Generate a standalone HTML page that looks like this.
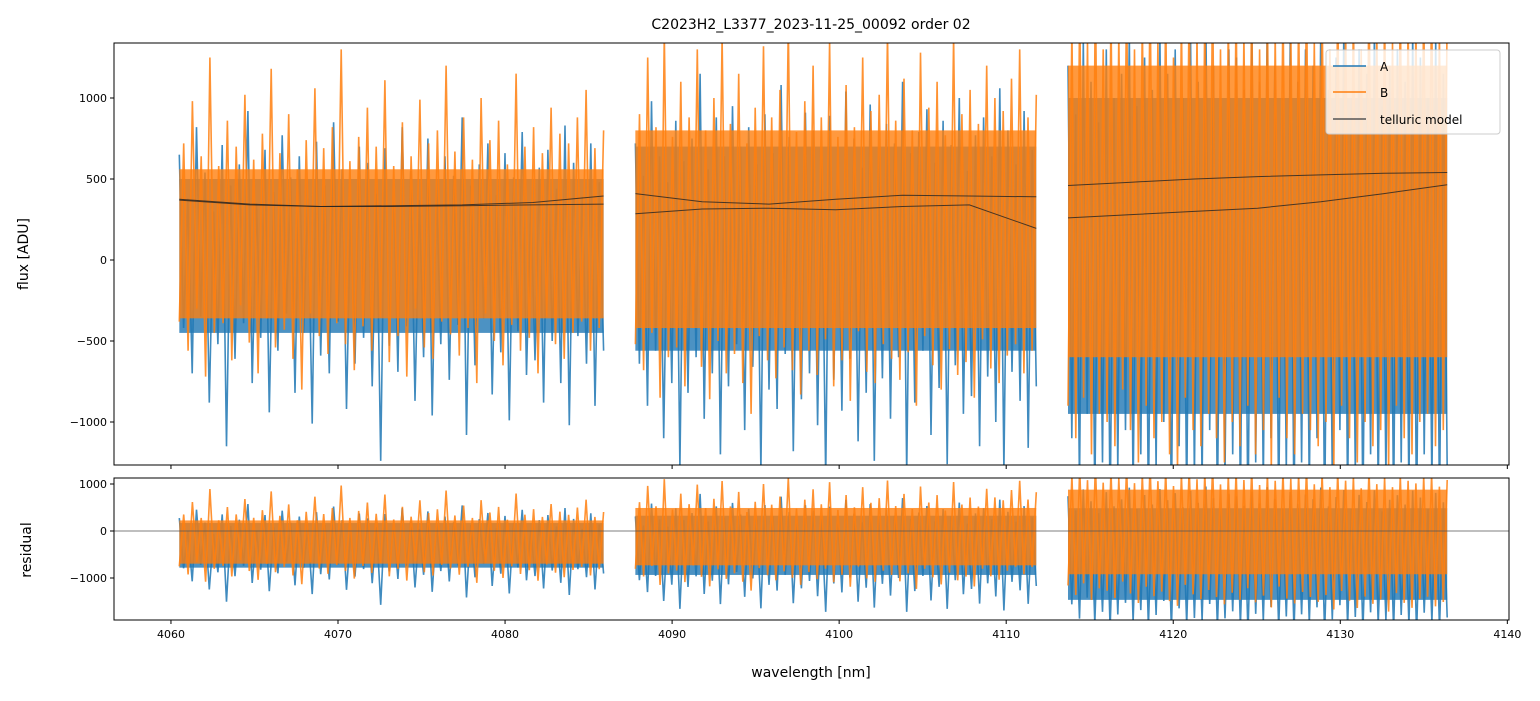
<!DOCTYPE html>
<html><head><meta charset="utf-8"><style>
body{margin:0;background:#fff;font-family:"Liberation Sans","DejaVu Sans",sans-serif}
svg text{font-family:"DejaVu Sans","Liberation Sans",sans-serif}
</style></head><body>
<svg id="c" width="1540" height="696" xmlns="http://www.w3.org/2000/svg">
<defs>
<clipPath id="ct"><rect x="114" y="43" width="1395" height="422"/></clipPath>
<clipPath id="cb"><rect x="114" y="478" width="1395" height="142"/></clipPath>
</defs>
<rect x="0" y="0" width="1540" height="696" fill="#fff"/>
<text x="811" y="29" font-size="14" text-anchor="middle">C2023H2_L3377_2023-11-25_00092  order 02</text>
<g id="gt" clip-path="url(#ct)"></g>
<g id="gb" clip-path="url(#cb)"></g>
<g id="axes"></g>
<text x="28" y="254" font-size="14" text-anchor="middle" transform="rotate(-90 28 254)">flux [ADU]</text>
<text x="31" y="550" font-size="14" text-anchor="middle" transform="rotate(-90 31 550)">residual</text>
<text x="811" y="677" font-size="14" text-anchor="middle">wavelength [nm]</text>
<g>
<rect x="1326" y="50" width="174" height="84" rx="3" fill="#fff" fill-opacity="0.8" stroke="#ccc"/>
<line x1="1333" y1="66" x2="1366" y2="66" stroke="#1f77b4" stroke-width="1.5"/>
<text x="1380" y="71" font-size="12">A</text>
<line x1="1333" y1="92" x2="1366" y2="92" stroke="#ff7f0e" stroke-width="1.5"/>
<text x="1380" y="97" font-size="12">B</text>
<line x1="1333" y1="119" x2="1366" y2="119" stroke="#555" stroke-width="1.5"/>
<text x="1380" y="124" font-size="12">telluric model</text>
</g>
</svg>
<script>
const segRanges=[[4060.5,4085.9],[4087.8,4111.8],[4113.7,4136.4]];
const xTicks=[4060,4070,4080,4090,4100,4110,4120,4130,4140];
const yTicksTop=[-1000,-500,0,500,1000];
const yTicksBot=[-1000,0,1000];
const modelA=[[375,345,330,330,335,340,345],[410,360,345,375,400,395,390],[460,480,500,515,525,535,540]];
const modelB=[[370,340,330,335,340,355,395],[285,315,320,310,330,340,195],[260,280,300,320,360,410,465]];
const coreLoA=[-450,-560,-950];
const coreHiA=[500,700,1000];
const coreLoB=[-360,-420,-600];
const coreHiB=[560,800,1200];
const fluxA=[
[650,-420,380,-700,820,-350,540,-880,300,-520,710,-1150,460,-610,590,-390,920,-760,350,-480,680,-940,420,-560,770,-330,510,-820,640,-450,380,-1010,730,-590,460,-700,850,-380,560,-920,330,-640,700,-480,600,-780,410,-1240,690,-530,480,-690,820,-410,550,-870,370,-600,750,-960,430,-520,640,-740,520,-400,880,-1080,460,-650,590,-360,720,-830,400,-570,660,-990,510,-440,790,-710,350,-620,570,-880,680,-500,440,-760,830,-1020,600,-470,390,-640,720,-900,480,-560],
[720,-640,520,-900,980,-560,640,-1100,480,-760,860,-1280,610,-820,750,-600,1150,-980,560,-700,880,-1200,640,-780,950,-520,700,-1050,820,-660,590,-1300,900,-800,660,-920,1080,-580,760,-1180,530,-860,910,-700,800,-1020,620,-1350,890,-740,680,-930,1040,-610,750,-1120,570,-820,960,-1240,640,-730,840,-980,720,-600,1100,-1320,660,-880,790,-560,930,-1080,600,-790,860,-1260,710,-650,1000,-950,550,-840,770,-1150,880,-720,640,-1000,1060,-1300,800,-690,590,-870,920,-1160,680,-780],
[1200,-1100,900,-1400,1350,-950,1100,-1500,850,-1250,1300,-1600,1000,-1300,1150,-1050,1400,-1450,950,-1200,1250,-1550,1050,-1300,1380,-1000,1150,-1600,1300,-1150,1000,-1500,1350,-1350,1100,-1400,1450,-1050,1200,-1550,950,-1350,1300,-1200,1250,-1500,1050,-1650,1350,-1250,1100,-1400,1450,-1100,1200,-1550,1000,-1300,1350,-1600,1100,-1250,1300,-1450,1200,-1100,1450,-1650,1050,-1350,1250,-1050,1400,-1500,1000,-1300,1300,-1600,1150,-1200,1400,-1450,950,-1350,1200,-1550,1300,-1250,1100,-1450,1400,-1650,1250,-1200,1000,-1400,1350,-1550,1150,-1300]];
const fluxB=[
[-380,720,-560,980,-300,640,-720,1250,-450,580,-390,860,-620,700,-280,1020,-510,620,-700,780,-360,1180,-540,660,-430,900,-610,560,-800,740,-330,1060,-470,690,-580,820,-390,1300,-520,610,-680,760,-410,940,-560,700,-350,1110,-630,580,-470,850,-720,640,-300,990,-540,720,-610,800,-380,1200,-460,670,-590,880,-420,620,-760,1000,-330,740,-500,860,-650,590,-400,1150,-560,700,-480,820,-700,660,-350,940,-520,780,-610,720,-450,880,-380,1050,-560,690,-420,800],
[-520,900,-680,1250,-450,820,-850,1400,-600,760,-540,1100,-780,880,-420,1300,-660,800,-860,1000,-500,1380,-700,840,-580,1150,-760,720,-950,940,-470,1320,-620,880,-730,1050,-540,1450,-680,790,-830,980,-560,1200,-710,880,-490,1350,-780,760,-620,1080,-870,820,-440,1250,-690,920,-760,1020,-520,1400,-610,860,-740,1120,-570,800,-900,1280,-470,940,-650,1100,-800,770,-550,1380,-710,900,-630,1050,-850,840,-490,1200,-670,1000,-760,920,-590,1120,-520,1300,-700,880,-560,1020],
[-900,1450,-1100,1600,-850,1350,-1200,1700,-950,1300,-1000,1550,-1150,1400,-800,1650,-1050,1300,-1250,1500,-900,1700,-1100,1350,-1000,1600,-1200,1250,-1300,1500,-850,1650,-1050,1400,-1150,1550,-950,1700,-1100,1300,-1250,1500,-1000,1600,-1150,1400,-900,1650,-1200,1300,-1050,1550,-1300,1400,-850,1600,-1100,1450,-1200,1550,-950,1700,-1050,1350,-1150,1600,-1000,1300,-1300,1650,-900,1450,-1100,1550,-1250,1300,-1000,1700,-1150,1400,-1050,1550,-1300,1350,-900,1600,-1100,1500,-1200,1450,-1000,1600,-950,1650,-1150,1400,-1050,1550]];
const X0=4056.59,X1=4140.1,PL=114,PR=1509;
const sx=w=>PL+(w-X0)/(X1-X0)*(PR-PL);
const syT=v=>260-v*0.162;
const syB=v=>531-v*0.047;
const ns='http://www.w3.org/2000/svg';
function mk(tag,attrs,parent){const e=document.createElementNS(ns,tag);for(const k in attrs)e.setAttribute(k,attrs[k]);parent.appendChild(e);return e;}
function modelAt(m,seg,w){const [a,b]=segRanges[seg];let t=(w-a)/(b-a)*(m.length-1);t=Math.max(0,Math.min(t,m.length-1));const i=Math.min(Math.floor(t),m.length-2);const f=t-i;return m[i]*(1-f)+m[i+1]*f;}
const gt=document.getElementById('gt'),gb=document.getElementById('gb'),ax=document.getElementById('axes');
[['A',fluxA,modelA,'#1f77b4',coreLoA,coreHiA],['B',fluxB,modelB,'#ff7f0e',coreLoB,coreHiB]].forEach(([nm,fl,md,col,lo,hi])=>{
 fl.forEach((arr,s)=>{
  const [a,b]=segRanges[s];
  const band=mk('rect',{x:sx(a),width:sx(b)-sx(a),y:syT(hi[s]),height:syT(lo[s])-syT(hi[s]),fill:col,'fill-opacity':0.8},gt);
  
  
  const mm=modelAt(md[s],s,(a+b)/2);
  const band2=mk('rect',{x:sx(a),width:sx(b)-sx(a),y:syB(hi[s]-mm),height:syB(lo[s]-mm)-syB(hi[s]-mm),fill:col,'fill-opacity':0.8},gb);
  
  
  const ws=arr.map((v,i)=>a+i*(b-a)/(arr.length-1));
  const pt=arr.map((v,i)=>sx(ws[i]).toFixed(1)+','+syT(v).toFixed(1)).join(' ');
  const p=mk('polyline',{points:pt,fill:'none',stroke:col,'stroke-width':1.6,'stroke-opacity':0.85,'stroke-linejoin':'bevel'},gt);
  
  
  const pr=arr.map((v,i)=>sx(ws[i]).toFixed(1)+','+syB(v-modelAt(md[s],s,ws[i])).toFixed(1)).join(' ');
  const q=mk('polyline',{points:pr,fill:'none',stroke:col,'stroke-width':1.6,'stroke-opacity':0.85,'stroke-linejoin':'bevel'},gb);
  
  
 });
});
const zl=mk('line',{x1:PL,x2:PR,y1:syB(0),y2:syB(0),stroke:'#555','stroke-width':0.7},gb);


[modelA,modelB].forEach((md,k)=>{md.forEach((m,s)=>{
  const [a,b]=segRanges[s];
  const pt=m.map((v,i)=>sx(a+i*(b-a)/(m.length-1)).toFixed(1)+','+syT(v).toFixed(1)).join(' ');
  const l=mk('polyline',{points:pt,fill:'none',stroke:'#222','stroke-width':1,'stroke-opacity':0.8},gt);
  
  
});});
mk('rect',{x:PL,y:43,width:PR-PL,height:422,fill:'none',stroke:'#000','stroke-width':1},ax);
mk('rect',{x:PL,y:478,width:PR-PL,height:142,fill:'none',stroke:'#000','stroke-width':1},ax);
xTicks.forEach(t=>{
 const x=sx(t);
 mk('line',{x1:x,x2:x,y1:465,y2:469,stroke:'#000'},ax);
 mk('line',{x1:x,x2:x,y1:620,y2:624,stroke:'#000'},ax);
 const tx=mk('text',{x:x,y:638,'font-size':11,'text-anchor':'middle'},ax);
 tx.textContent=t;
 
 
});
yTicksTop.forEach(t=>{
 const y=syT(t);
 mk('line',{x1:PL-4,x2:PL,y1:y,y2:y,stroke:'#000'},ax);
 const tx=mk('text',{x:PL-7,y:y+4,'font-size':11,'text-anchor':'end'},ax);
 tx.textContent=t<0?'\u2212'+(-t):t;
 
 
});
yTicksBot.forEach(t=>{
 const y=syB(t);
 mk('line',{x1:PL-4,x2:PL,y1:y,y2:y,stroke:'#000'},ax);
 const tx=mk('text',{x:PL-7,y:y+4,'font-size':11,'text-anchor':'end'},ax);
 tx.textContent=t<0?'\u2212'+(-t):t;
 
 
});
</script>
</body></html>
